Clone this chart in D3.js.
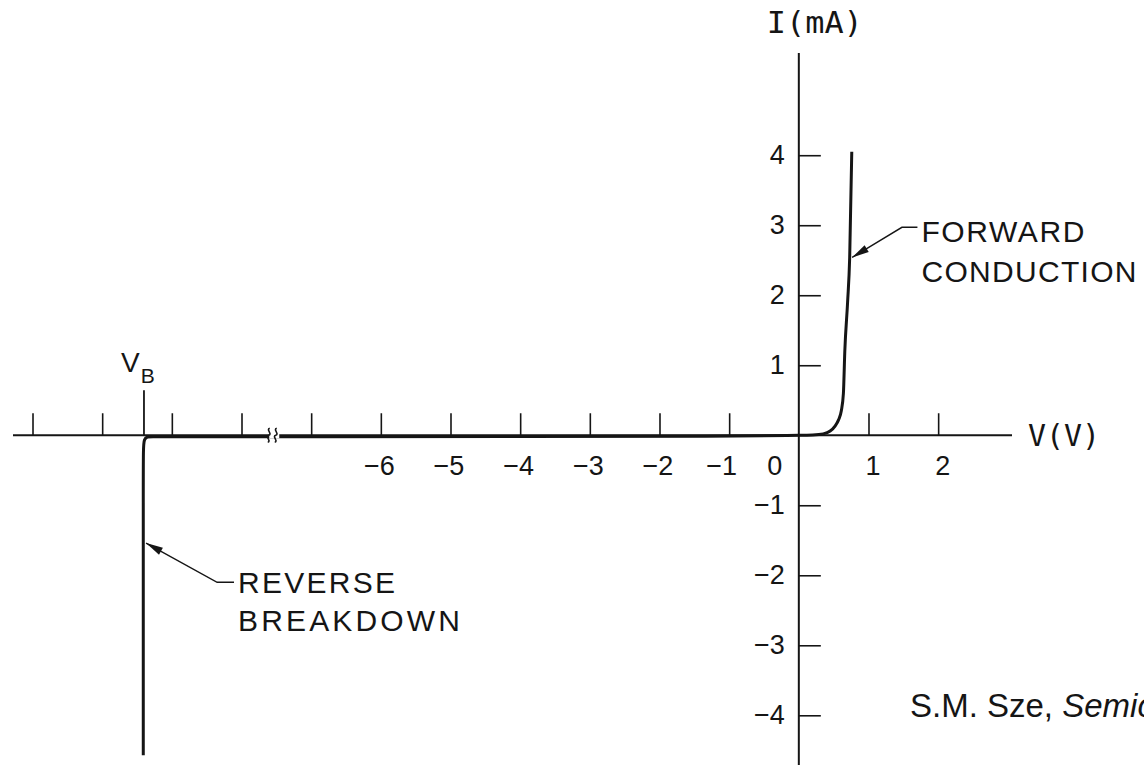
<!DOCTYPE html>
<html>
<head>
<meta charset="utf-8">
<script src="https://cdn.jsdelivr.net/npm/d3@7"></script>
<style>
  body { margin: 0; background: #fff; }
  svg { display: block; }
  text { font-family: "Liberation Sans", Arial, sans-serif; fill: #151515; }
  .mono { font-family: "DejaVu Sans Mono", monospace; }
</style>
</head>
<body>
<svg id="chart" width="1144" height="765"></svg>
<script>
// Tick positions (volts / mA). Ticks left of the axis break are unlabeled.
const xTickVals = [-11, -10, -9, -8, -7, -6, -5, -4, -3, -2, -1, 1, 2];
const xLabelVals = [-6, -5, -4, -3, -2, -1, 1, 2];
const yTickVals = [-4, -3, -2, -1, 1, 2, 3, 4];

// Breakdown voltage and the break in the voltage axis (schematic units)
const breakdownV = -9.4;
const axisBreakV = -7.53;

// Forward conduction branch
const fwdV = [0, 0.2, 0.35, 0.45, 0.52, 0.57, 0.61, 0.64, 0.66, 0.7, 0.73, 0.76];
const fwdI = [0, 0.005, 0.02, 0.06, 0.13, 0.22, 0.35, 0.6, 1.2, 1.9, 2.54, 4.05];

// Reverse branch: tiny leakage, then breakdown at V_B
const revV = [-9.41, -9.41, -9.41, -9.3, -9.0, -7, -4, -1, 0];
const revI = [-4.57, -0.3, -0.02, -0.02, -0.02, -0.02, -0.02, -0.015, 0];

const svg = d3.select('#chart');
const ink = '#151515';
const fmt = d => (d < 0 ? '\u2212' : '') + Math.abs(d);

// Scales
const x = d3.scaleLinear().domain([-11.28, 3.06]).range([13, 1012]);
const y = d3.scaleLinear().domain([-4.71, 5.46]).range([765, 53]);

// Axis lines
svg.append('line')
  .attr('x1', x.range()[0]).attr('x2', x.range()[1])
  .attr('y1', y(0)).attr('y2', y(0))
  .attr('stroke', ink).attr('stroke-width', 2);
svg.append('line')
  .attr('x1', x(0)).attr('x2', x(0))
  .attr('y1', y.range()[0]).attr('y2', y.range()[1])
  .attr('stroke', ink).attr('stroke-width', 2);

// X ticks (upward), labels below
const xAxis = svg.append('g')
  .attr('transform', `translate(0,${y(0)})`)
  .call(d3.axisBottom(x)
    .tickValues(xTickVals)
    .tickSizeInner(-22)
    .tickSizeOuter(0)
    .tickPadding(21)
    .tickFormat(d => xLabelVals.includes(d) ? fmt(d) : ''));
xAxis.select('.domain').remove();
xAxis.selectAll('line').attr('stroke', ink).attr('stroke-width', 1.6);
xAxis.selectAll('text')
  .attr('font-size', 27)
  .attr('fill', ink)
  .attr('dx', d => d === -1 ? -8 : (d < 0 ? -2 : 4));

// "0" sits to the left of the current axis
svg.append('text')
  .attr('x', x(0) - 24).attr('y', y(0) + 21)
  .attr('dy', '0.71em')
  .attr('text-anchor', 'middle')
  .attr('font-size', 27)
  .text('0');

// Y ticks (to the right), labels on the left
const yAxis = svg.append('g')
  .attr('transform', `translate(${x(0)},0)`)
  .call(d3.axisLeft(y)
    .tickValues(yTickVals)
    .tickSizeInner(-22)
    .tickSizeOuter(0)
    .tickPadding(14)
    .tickFormat(fmt));
yAxis.select('.domain').remove();
yAxis.selectAll('line').attr('stroke', ink).attr('stroke-width', 1.6);
yAxis.selectAll('text').attr('font-size', 27).attr('fill', ink);

// V_B tick and label
svg.append('line')
  .attr('x1', x(breakdownV)).attr('x2', x(breakdownV))
  .attr('y1', y(0)).attr('y2', y(0) - 45)
  .attr('stroke', ink).attr('stroke-width', 1.8);
const vb = svg.append('text')
  .attr('x', x(breakdownV) - 23).attr('y', y(0) - 63)
  .attr('font-size', 28);
vb.append('tspan').text('V');
vb.append('tspan').attr('font-size', 21).attr('dy', 11).attr('dx', 1).text('B');

// Curves
const fwdData = fwdV.map((v, i) => [v, fwdI[i]]);
const revData = revV.map((v, i) => [v, revI[i]]);

svg.append('path')
  .datum(revData)
  .attr('fill', 'none').attr('stroke', ink).attr('stroke-width', 3)
  .attr('d', d3.line().x(d => x(d[0])).y(d => y(d[1])).curve(d3.curveBasis));

svg.append('path')
  .datum(fwdData)
  .attr('fill', 'none').attr('stroke', ink).attr('stroke-width', 3)
  .attr('d', d3.line().x(d => x(d[0])).y(d => y(d[1])).curve(d3.curveMonotoneX));

// Axis break mark
const bx = x(axisBreakV), by = y(0);
svg.append('rect')
  .attr('x', bx - 5).attr('y', by - 3).attr('width', 10).attr('height', 6)
  .attr('fill', '#fff');
[-3.5, 3.5].forEach(off => {
  svg.append('path')
    .attr('d', `M${bx + off - 3},${by + 7} c4,-1 -3,-6 1,-7 c4,-1 -3,-6 1,-7`)
    .attr('fill', 'none').attr('stroke', ink).attr('stroke-width', 1.6);
});

// Annotations with leader arrows
function leader(tip, elbow, textStart) {
  svg.append('path')
    .attr('d', `M${x(textStart[0]) - 4},${y(elbow[1])} L${x(elbow[0])},${y(elbow[1])} L${x(tip[0])},${y(tip[1])}`)
    .attr('fill', 'none').attr('stroke', ink).attr('stroke-width', 1.4);
  // arrowhead
  const tx = x(tip[0]), ty = y(tip[1]);
  const ang = Math.atan2(y(elbow[1]) - ty, x(elbow[0]) - tx);
  const len = 17, half = 4;
  const bxh = tx + len * Math.cos(ang), byh = ty + len * Math.sin(ang);
  const px = -Math.sin(ang) * half, py = Math.cos(ang) * half;
  svg.append('path')
    .attr('d', `M${tx},${ty} L${bxh + px},${byh + py} L${bxh - px},${byh - py} Z`)
    .attr('fill', ink);
}

function label(lines, v, iVals, widths) {
  lines.forEach((s, k) => {
    svg.append('text')
      .attr('x', x(v)).attr('y', y(iVals[k]))
      .attr('font-size', 30)
      .attr('textLength', widths[k]).attr('lengthAdjust', 'spacing')
      .text(s);
  });
}

leader([0.765, 2.54], [1.48, 2.97], [1.76]);
label(['FORWARD', 'CONDUCTION'], 1.76, [2.76, 2.19], [163, 215]);

leader([-9.37, -1.54], [-8.35, -2.1], [-8.05]);
label(['REVERSE', 'BREAKDOWN'], -8.05, [-2.26, -2.8], [157, 222]);

// Axis titles
svg.append('text')
  .attr('class', 'mono')
  .attr('x', x(0) - 32).attr('y', 33)
  .attr('font-size', 31)
  .attr('textLength', 96).attr('lengthAdjust', 'spacingAndGlyphs')
  .text('I(mA)');
svg.append('text')
  .attr('class', 'mono')
  .attr('x', 1028).attr('y', y(0) + 11)
  .attr('font-size', 30)
  .attr('textLength', 72).attr('lengthAdjust', 'spacingAndGlyphs')
  .text('V(V)');

// Source credit (runs off the right edge as in the original)
const cite = svg.append('text')
  .attr('x', 910).attr('y', 717)
  .attr('font-size', 33);
cite.append('tspan').text('S.M. Sze, ');
cite.append('tspan').attr('font-style', 'italic').text('Semiconductor Devices');
</script>
</body>
</html>
